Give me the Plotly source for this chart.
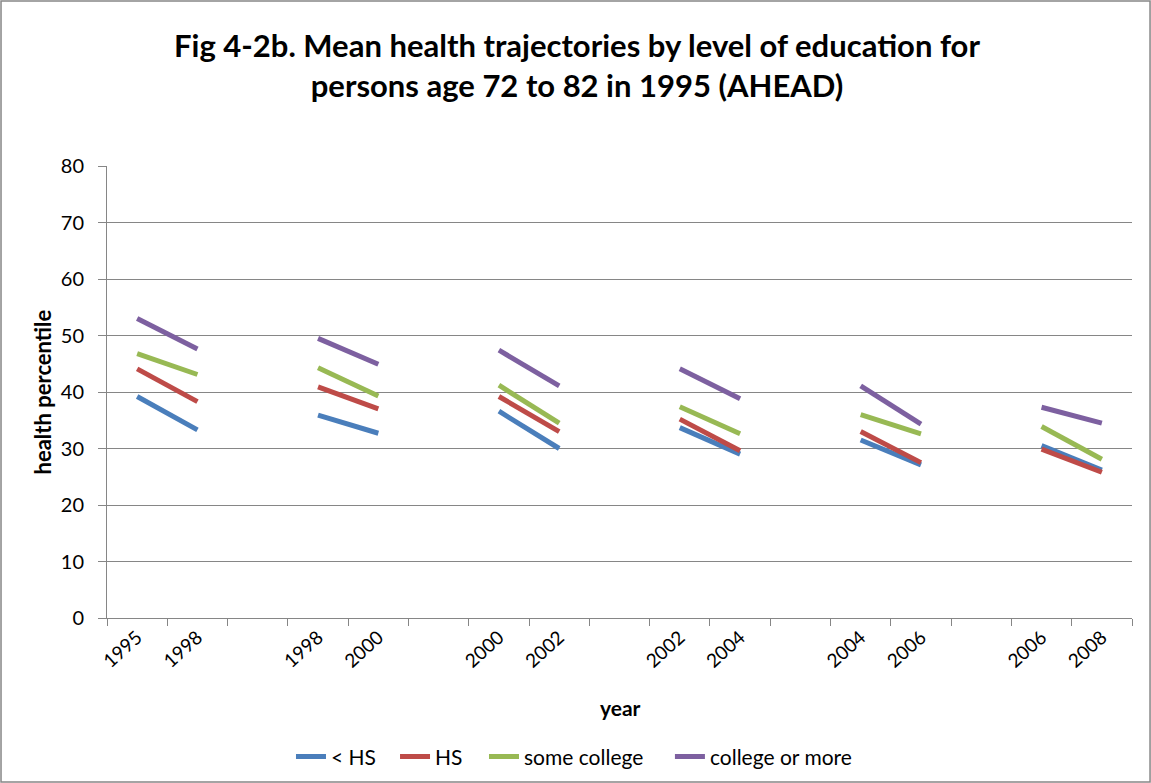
import plotly.graph_objects as go

# Category labels (blank entries are gaps between survey waves)
categories = ["1995", "1998", "", "1998", "2000", "", "2000", "2002", "",
              "2002", "2004", "", "2004", "2006", "", "2006", "2008"]

lt_hs = [39.2, 33.3, None, 35.9, 32.7, None, 36.6, 30.0, None,
         33.7, 29.0, None, 31.5, 27.1, None, 30.5, 26.2]
hs = [44.1, 38.3, None, 40.9, 37.0, None, 39.2, 33.0, None,
      35.2, 29.6, None, 33.0, 27.5, None, 29.9, 25.8]
some_college = [46.8, 43.1, None, 44.3, 39.3, None, 41.2, 34.5, None,
                37.4, 32.6, None, 36.0, 32.6, None, 33.9, 28.1]
college_more = [53.0, 47.6, None, 49.5, 44.9, None, 47.4, 41.1, None,
                44.1, 38.8, None, 41.1, 34.3, None, 37.3, 34.5]

series_names = ["< HS", "HS", "some college", "college or more"]
series_values = [lt_hs, hs, some_college, college_more]
colors = ["#4A7EBB", "#BE4B48", "#98B954", "#7D60A0"]

y_ticks = list(range(0, 81, 10))

title_text = ("Fig 4-2b. Mean health trajectories by level of education for<br>"
              "persons age 72 to 82 in 1995 (AHEAD)")

x_idx = list(range(len(categories)))

font_family = "Lato, 'Open Sans', Arial, sans-serif"

# each legend entry placed separately to mimic Excel's spacing
legend_ids = ["legend", "legend2", "legend3", "legend4"]
legend_x = [0.1795, 0.2810, 0.3678, 0.5492]

fig = go.Figure()
for name, vals, col, lid in zip(series_names, series_values, colors, legend_ids):
    fig.add_trace(go.Scatter(
        x=x_idx, y=vals, name=name, mode="lines",
        line=dict(color=col, width=5),
        connectgaps=False, legend=lid,
    ))

annotations = [
    dict(text="<b>%s</b>" % title_text, xref="paper", yref="paper",
         x=0.459, y=1.2225, xanchor="center", yanchor="middle", showarrow=False,
         align="center",
         font=dict(size=31, family=font_family, color="black")),
    dict(text="<b>year</b>", xref="paper", yref="paper",
         x=0.5005, y=-0.197, xanchor="center", yanchor="middle", showarrow=False,
         font=dict(size=21, family=font_family, color="black")),
    dict(text="<b>health percentile</b>", xref="paper", yref="paper",
         x=-0.0634, y=0.499, xanchor="center", yanchor="middle", showarrow=False,
         textangle=-90, font=dict(size=22, family=font_family, color="black")),
]

legend_common = dict(orientation="h", xanchor="left", y=-0.307, yanchor="middle",
                     font=dict(size=21, family=font_family), itemwidth=30,
                     bgcolor="rgba(0,0,0,0)")

layout_legends = {}
for lid, lx in zip(legend_ids, legend_x):
    layout_legends[lid] = dict(legend_common, x=lx)

fig.update_layout(
    width=1151, height=783,
    paper_bgcolor="white", plot_bgcolor="white",
    margin=dict(l=107, r=19, t=166, b=165, autoexpand=False),
    font=dict(family=font_family, color="black"),
    showlegend=True,
    xaxis=dict(
        range=[-0.5, len(categories) - 0.5],
        tickmode="array", tickvals=x_idx, ticktext=categories,
        tickangle=-42, ticks="", showgrid=False, zeroline=False,
        showline=True, linecolor="#868686", linewidth=1,
        tickfont=dict(size=19, family=font_family),
        minor=dict(tickmode="array",
                   tickvals=[i - 0.5 for i in range(len(categories) + 1)],
                   ticks="outside", ticklen=7, tickcolor="#868686", showgrid=False),
        automargin=False,
    ),
    yaxis=dict(
        range=[0, 80], tickmode="array", tickvals=y_ticks,
        ticks="outside", ticklen=8, tickcolor="#868686",
        showgrid=True, gridcolor="#868686", gridwidth=1,
        zeroline=False, showline=True, linecolor="#868686", linewidth=1,
        tickfont=dict(size=20, family=font_family),
        ticklabelstandoff=10,
        automargin=False,
    ),
    annotations=annotations,
    shapes=[dict(type="rect", xref="paper", yref="paper",
                 x0=-0.1034, x1=1.0176, y0=-0.3628, y1=1.365,
                 line=dict(color="#868686", width=1.5), fillcolor="rgba(0,0,0,0)",
                 layer="below")],
    **layout_legends,
)

fig.write_html("out.html", config={"displayModeBar": False},
               post_script="document.body.style.margin='0';document.body.style.padding='0';")
